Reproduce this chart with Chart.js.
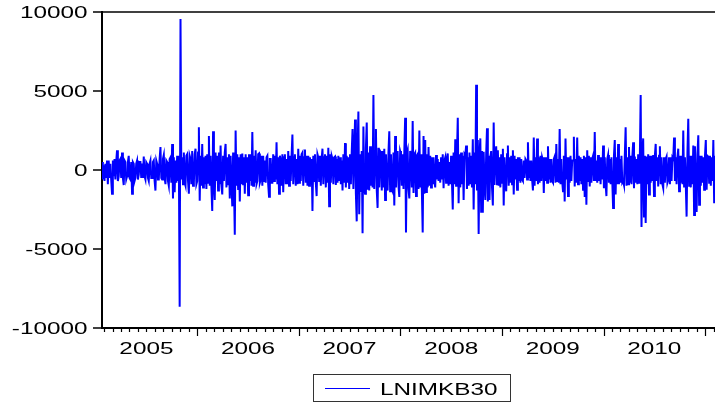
<!DOCTYPE html>
<html>
<head>
<meta charset="utf-8">
<script src="https://cdn.jsdelivr.net/npm/chart.js@4/dist/chart.umd.min.js"></script>
<style>
  html, body { margin: 0; padding: 0; background: #ffffff; }
  #wrap { width: 715px; height: 405px; position: relative; }
</style>
</head>
<body>
<div id="wrap"><canvas id="c" width="715" height="405"></canvas></div>
<script>
// ---- data ----
const seriesName = 'LNIMKB30';
const yearLabels = ['2005', '2006', '2007', '2008', '2009', '2010'];
const yTickValues = [-10000, -5000, 0, 5000, 10000];
const startYear = 2005.063;   // first observation (decimal year)
const endYear = 2011.097;     // last observation (decimal year)
const values = [
  500, -600, 300, -700, 400, -500, 600, -900, 600, -500, 400, -600,
  -1500, 600, -400, 700, -600, 500, 1250, -700, -400, 600, 700, -500,
  1100, -500, -950, 600, 500, -600, -400, 500, 900, -500, -600, 500,
  -1500, 500, 400, -700, -500, 400, 600, -600, -300, 500, 500, -500,
  400, -500, 850, -400, -600, 500, 400, -500, -700, 400, 600, -500,
  -500, 500, 600, -700, -1300, 600, 400, -600, -600, 700, 1450, -500,
  -600, 700, 950, -500, -900, 600, 500, -700, -1000, 700, 800, -800,
  1650, -1800, 800, -1400, 600, -800, 900, -700, 900, -8650, 9550, -600,
  800, -900, 1100, -800, -1000, 900, 1000, -700, -1500, 900, 700, -900,
  1200, -1000, -800, 1000, 1350, -900, -700, 1100, 2700, -1950, 900, -1000,
  1650, -1100, 800, -900, 900, -1200, 1000, -800, 2150, -1000, 900, -1100,
  -2600, 2450, -900, -1900, 1100, -700, 900, -1300, 1100, -900, 1550, -1000,
  -1550, 900, -700, 1100, 1650, -1100, 800, -900, 1000, -1800, 900, -800,
  -2300, 1100, -900, -4100, 2500, -1000, 1000, -1200, 800, -2000, 1000, -900,
  1050, -900, 800, -1500, 1000, -800, 800, -1600, 1000, -700, 1000, -1000,
  2400, -1000, 900, -800, 1250, -900, -700, 1000, 1050, -800, -600, 900,
  -1000, 900, -700, 600, -800, 800, 900, -900, -1700, 700, 700, -800,
  -800, 1000, -700, 900, -600, 1750, -900, 800, -1500, 900, 600, -1000,
  1000, -1400, 800, 1000, -900, 700, -900, 1200, -1000, 900, -700, 900,
  2250, -900, 800, 1000, -1000, 700, -900, 1350, -800, 900, -700, 1000,
  1100, -1000, 800, 1300, -800, 900, -1000, 900, -1000, 800, -900, 700,
  -2600, 900, -700, 1000, -800, -1650, 1000, 800, -700, 900, -1000, 700,
  1350, -900, 800, 1000, -1100, 900, -800, 1400, -2300, 1000, -800, 900,
  700, -900, 800, 850, -950, 700, -800, 900, -700, 800, -900, 600,
  -1300, 1000, -800, 1700, -1100, 900, -800, 800, -1200, 1000, -900, 1100,
  2600, -1200, 1100, 3200, -1500, -3250, 1300, 3700, -2800, 1000, -1400, 1200,
  -4000, 2750, -1200, -1500, 1400, 3000, -1250, 1100, -1300, 1500, -1000, 900,
  -1100, 4750, -1200, 1200, 2600, -1300, -2400, 1400, -1100, 1200, 1100, -1300,
  1200, -1100, 1350, -1900, 1000, -900, -1300, 1100, 2450, -1350, 1000, -1200,
  -1350, 1100, -2250, 2150, -1100, 900, 1200, -1000, -1700, 1200, 1000, -1000,
  1000, -1200, 1200, 3300, -3950, 1100, 1300, -1200, -1800, 1200, 900, -1100,
  3100, -1450, 1000, 1100, -1650, 900, 1000, -1200, 2500, -1100, 1000, -1300,
  -3950, 2150, -1500, 1900, -1400, 1000, -1100, 1450, -1000, 900, -1100, 800,
  -900, 800, -700, -1100, 950, -600, 700, -700, 500, -800, 800, -600,
  1000, -1150, 600, 800, -800, 700, 1050, -1000, 500, -900, 900, -700,
  -2500, 1100, -900, 1950, -1000, 900, 3300, -2100, 1000, -1100, 1100, -900,
  900, -1900, 1000, 900, 1550, -1200, 800, -1000, 1100, -900, 900, -1100,
  1950, -2500, 1100, -900, 5400, -1300, 1900, -4050, 1000, 2000, -2650, 1200,
  -2700, 1150, -900, -1900, 1000, 2640, -2000, 900, -1900, 800, 1200, -1100,
  -2250, 3000, -950, 1000, 1500, -900, 1250, -1000, 800, -1100, 1000, -800,
  1350, -2250, 800, -900, -1350, 1000, 1550, -1000, 800, -800, 900, -900,
  1250, -1550, 900, -600, 700, -1250, 800, -700, 800, -800, 700, -600,
  -700, 600, -500, 700, 600, -600, 1750, -500, 600, -700, 600, -600,
  -1300, 2050, -1000, 800, -700, 2000, -900, 800, -800, 900, -700, 800,
  600, -1450, 800, -700, 800, -800, 1500, -600, 700, -800, 700, -700,
  -800, 700, 850, -800, 1650, -700, 700, -800, 2600, -900, 700, -700,
  -1350, 900, -2000, 2000, -600, 800, -1650, 800, -800, 900, -700, 600,
  600, 2100, -1050, 700, -800, 2050, -900, 900, -700, 800, -900, 700,
  -1250, 900, -1700, 800, -2200, 1250, -700, 900, -1050, 800, -800, 700,
  900, -700, 2400, -700, 600, -800, 950, -700, 800, -900, 800, -600,
  1550, -1150, 800, -900, -1650, 700, 950, -800, 700, -900, 800, -700,
  -2400, 900, 1900, -1550, 800, -900, 1650, -900, 700, -800, 900, -800,
  -700, -950, 900, 2700, -1000, 800, -900, 1450, -800, 900, -900, 800,
  1750, -1150, 850, -800, 700, -900, 1000, -800, 700, 4750, -3600, 1000,
  2000, -2950, 900, -3350, 850, -900, 1000, -1550, 900, -800, 900, -700,
  950, -1650, 900, 1650, -700, 800, -1050, 900, 1500, -900, 800, -900,
  -1150, 800, -800, 700, 850, -800, -600, 800, -900, 800, -700, 800,
  700, 2050, -700, 800, -900, 800, 1350, -1350, 900, -800, 900, -900,
  2500, -1050, 800, -900, -2950, 1100, 3250, -1000, 900, -1100, 900, -900,
  1550, -2850, 1500, -900, -2650, 1000, 2200, -2200, 900, -1000, 900, -800,
  800, -1250, 900, 1900, -1250, 900, 850, -800, 900, -1000, 800, -700,
  1900, -2100, 900
];

// observation dates spread evenly over the sample period
const step = (endYear - startYear) / (values.length - 1);
const points = values.map((v, i) => ({ x: startYear + i * step, y: v }));

const FONT = '17px "Liberation Sans", Arial, sans-serif';
const STRETCH = 1.43;

function stretchedText(ctx, text, x, y, align) {
  ctx.save();
  ctx.translate(x, y);
  ctx.scale(STRETCH, 1);
  ctx.textAlign = align;
  ctx.textBaseline = 'alphabetic';
  ctx.fillText(text, 0, 0);
  ctx.restore();
}

const decorPlugin = {
  id: 'decor',
  afterDraw(chart) {
    const ctx = chart.ctx;
    const area = chart.chartArea;
    const xs = chart.scales.x;
    const ys = chart.scales.y;
    ctx.save();
    ctx.strokeStyle = '#000';
    ctx.fillStyle = '#000';
    ctx.font = FONT;

    // top frame line
    ctx.lineWidth = 1.5;
    ctx.beginPath();
    ctx.moveTo(area.left, area.top);
    ctx.lineTo(area.right, area.top);
    ctx.stroke();

    // y ticks + labels
    ctx.lineWidth = 1.5;
    yTickValues.forEach(v => {
      const py = ys.getPixelForValue(v);
      ctx.beginPath();
      ctx.moveTo(area.left - 9, py);
      ctx.lineTo(area.left, py);
      ctx.stroke();
      stretchedText(ctx, String(v), area.left - 14.5, py + 5.5, 'right');
    });

    // x monthly ticks
    ctx.lineWidth = 1.2;
    const y0 = area.bottom;
    for (let yr = 2005; yr <= 2011; yr++) {
      for (let m = 0; m < 12; m++) {
        const v = yr + m / 12;
        if (v < xs.min || v > xs.max) continue;
        const px = Math.round(xs.getPixelForValue(v)) + 0.5;
        const len = m === 0 ? 8 : 4;
        ctx.beginPath();
        ctx.moveTo(px, y0);
        ctx.lineTo(px, y0 + len);
        ctx.stroke();
      }
    }
    // year labels centred in each year
    yearLabels.forEach(lbl => {
      const px = xs.getPixelForValue(Number(lbl) + 0.5);
      stretchedText(ctx, lbl, px, 353.5, 'center');
    });

    // legend box
    ctx.lineWidth = 1;
    ctx.strokeStyle = '#333';
    ctx.strokeRect(313.5, 374.5, 197, 27);
    ctx.strokeStyle = '#0000FF';
    ctx.beginPath();
    ctx.moveTo(325, 388.5);
    ctx.lineTo(370, 388.5);
    ctx.stroke();
    ctx.fillStyle = '#000';
    stretchedText(ctx, seriesName, 380, 395, 'left');
    ctx.restore();
  }
};

new Chart(document.getElementById('c'), {
  type: 'line',
  data: {
    datasets: [{
      label: seriesName,
      data: points,
      borderColor: '#0000FF',
      borderWidth: 2,
      pointRadius: 0,
      tension: 0,
      fill: false
    }]
  },
  options: {
    responsive: false,
    animation: false,
    devicePixelRatio: 1,
    layout: { padding: { top: 12, right: 0, left: 0, bottom: 0 } },
    plugins: { legend: { display: false }, tooltip: { enabled: false } },
    scales: {
      x: {
        type: 'linear',
        min: startYear,
        max: endYear,
        ticks: { display: false },
        grid: { display: false },
        border: { display: true, color: '#000', width: 2 },
        afterFit(scale) { scale.height = 77; }
      },
      y: {
        min: -10000,
        max: 10000,
        ticks: { display: false },
        grid: { display: false },
        border: { display: true, color: '#000', width: 2 },
        afterFit(scale) { scale.width = 102; }
      }
    }
  },
  plugins: [decorPlugin]
});
</script>
</body>
</html>
